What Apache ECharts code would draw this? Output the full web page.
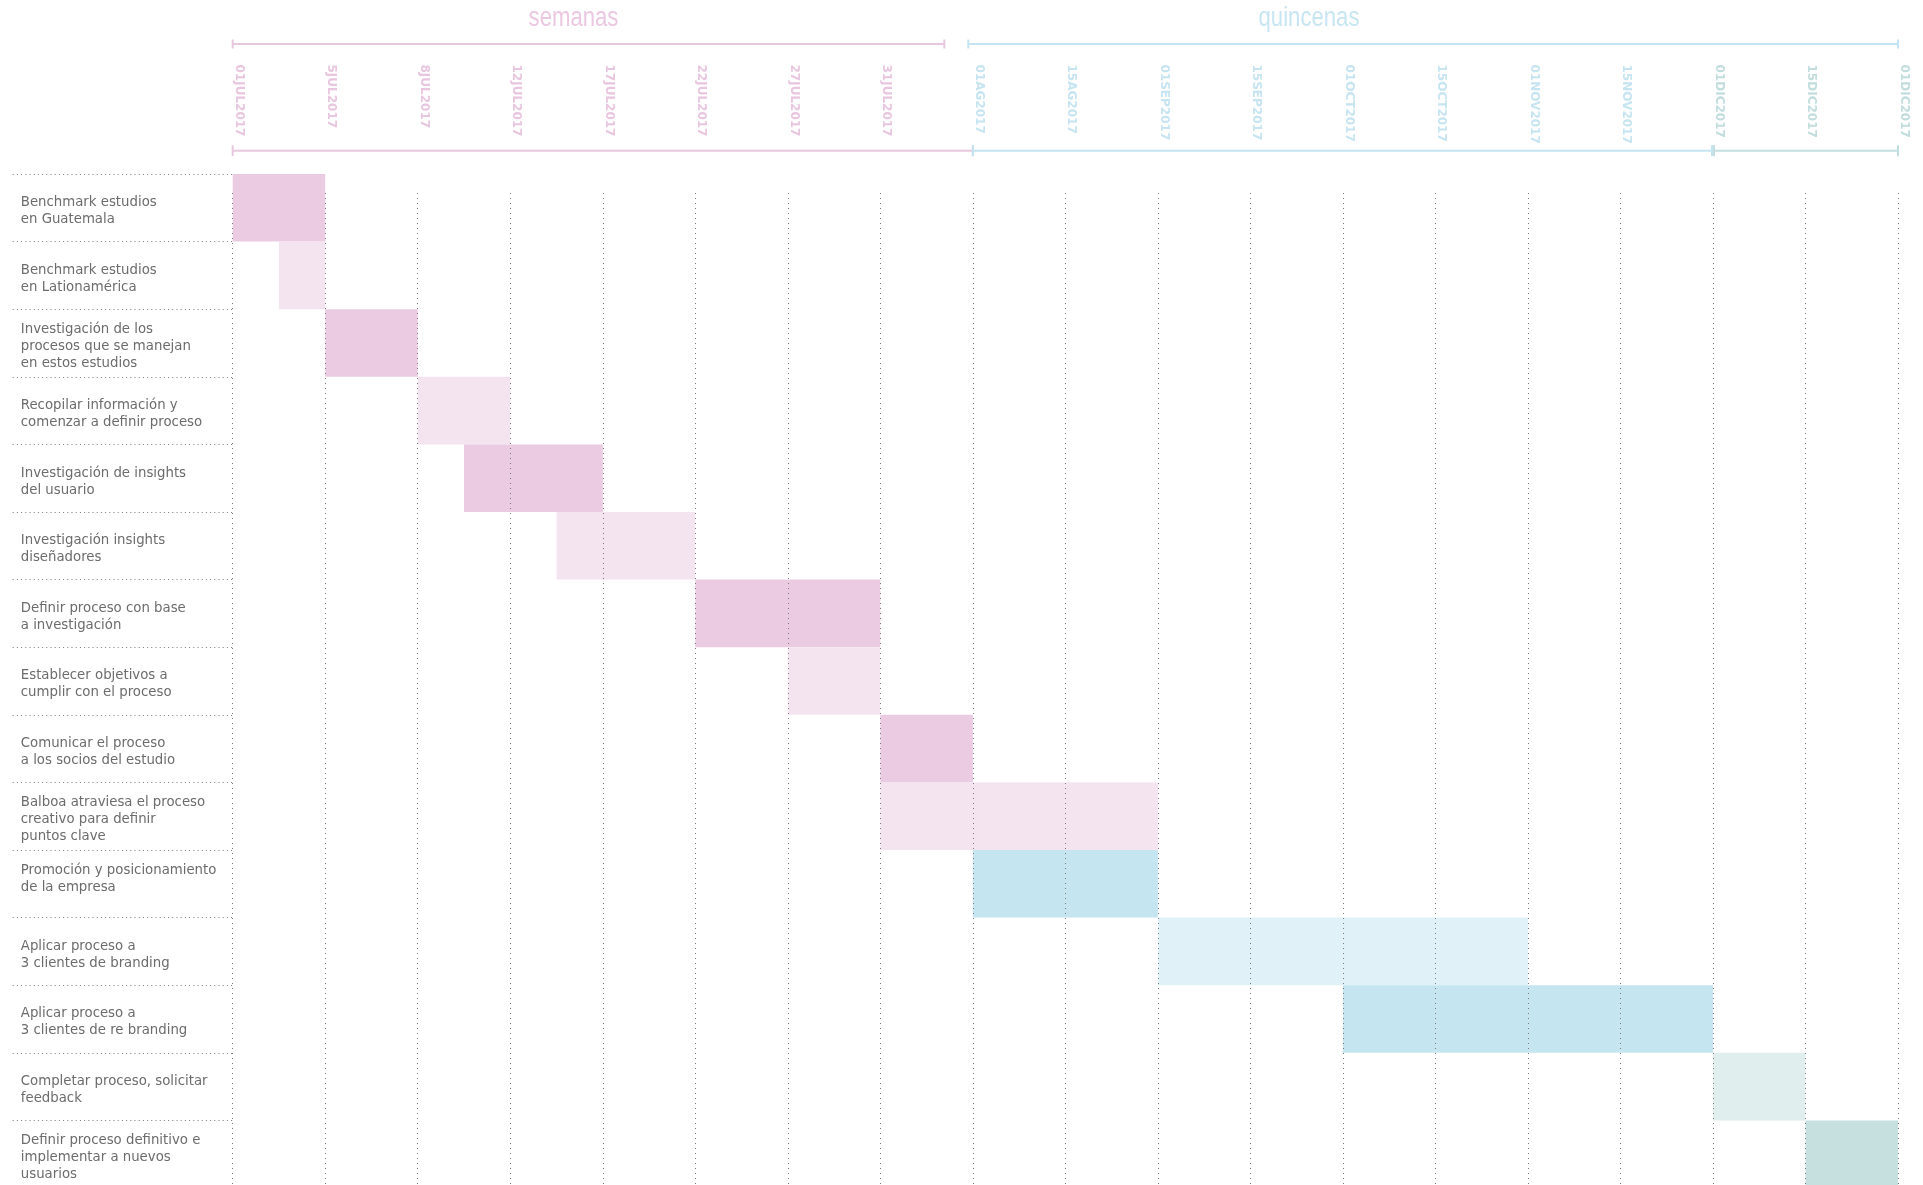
<!DOCTYPE html>
<html>
<head>
<meta charset="utf-8">
<title>Cronograma</title>
<style>
  html, body { margin: 0; padding: 0; background: #ffffff; }
  #chart { width: 1923px; height: 1185px; }
</style>
<script src="https://cdn.jsdelivr.net/npm/echarts@6/dist/echarts.min.js"></script>
</head>
<body>
<div id="chart"></div>
<script>
// Tasks, top to bottom
const tasks = [
  'Benchmark estudios\nen Guatemala',
  'Benchmark estudios\nen Lationamérica',
  'Investigación de los\nprocesos que se manejan\nen estos estudios',
  'Recopilar información y\ncomenzar a definir proceso',
  'Investigación de insights\ndel usuario',
  'Investigación insights\ndiseñadores',
  'Definir proceso con base\na investigación',
  'Establecer objetivos a\ncumplir con el proceso',
  'Comunicar el proceso\na los socios del estudio',
  'Balboa atraviesa el proceso\ncreativo para definir\npuntos clave',
  'Promoción y posicionamiento\nde la empresa\n ',
  'Aplicar proceso a\n3 clientes de branding',
  'Aplicar proceso a\n3 clientes de re branding',
  'Completar proceso, solicitar\nfeedback',
  'Definir proceso definitivo e\nimplementar a nuevos\nusuarios'
];

// Start / end of each task, measured in timeline columns (0 = 01JUL2017)
const taskStart = [0, 0.5, 1, 2, 2.5, 3.5, 5, 6, 7, 7, 8, 10, 12, 16, 17];
const taskEnd   = [1, 1,   2, 3, 4,   5,   7, 7, 8, 10, 10, 14, 16, 17, 18];
const taskTone  = ['pinkStrong', 'pinkSoft', 'pinkStrong', 'pinkSoft', 'pinkStrong',
                   'pinkSoft', 'pinkStrong', 'pinkSoft', 'pinkStrong', 'pinkSoft',
                   'blueStrong', 'blueSoft', 'blueStrong', 'tealSoft', 'tealStrong'];

// Timeline tick labels (weeks, then fortnights)
const tickLabels = ['01JUL2017', '5JUL2017', '8JUL2017', '12JUL2017', '17JUL2017',
                    '22JUL2017', '27JUL2017', '31JUL2017', '01AG2017', '15AG2017',
                    '01SEP2017', '15SEP2017', '01OCT2017', '15OCT2017', '01NOV2017',
                    '15NOV2017', '01DIC2017', '15DIC2017', '01DIC2017'];
const tickGroup = ['w', 'w', 'w', 'w', 'w', 'w', 'w', 'w', 'q', 'q',
                   'q', 'q', 'q', 'q', 'q', 'q', 't', 't', 't'];

const tones = {
  pinkStrong: '#eacbe2',
  pinkSoft:   '#f4e4ef',
  blueStrong: '#c5e6f1',
  blueSoft:   '#e0f1f8',
  tealSoft:   '#e1eeee',
  tealStrong: '#c6dfdf'
};
const groupColor = { w: '#e9c6df', q: '#c6e4f1', t: '#c2dddd' };
const bracketPink = '#e8c8df';
const bracketBlue = '#c4e4f1';
const bracketTeal = '#c3dede';

const GRID_LEFT = 232.7;
const GRID_RIGHT = 25;
const GRID_TOP = 174;
const ROW_H = 67.6;
const GRID_H = ROW_H * tasks.length;
const COLS = tickLabels.length - 1;
const LABEL_DROP = 3.5;   // task names sit slightly below the row centre

const dotGray = '#7a7a7a';

const chart = echarts.init(document.getElementById('chart'), null, { renderer: 'canvas' });

const hiddenValueAxis = function (gridIndex) {
  return {
    gridIndex: gridIndex, type: 'value', min: 0, max: 1,
    axisLine: { show: false }, axisTick: { show: false }, axisLabel: { show: false },
    splitLine: { show: false }
  };
};

const option = {
  backgroundColor: '#ffffff',
  animation: false,
  grid: [
    // bars + timeline labels
    { left: GRID_LEFT, right: GRID_RIGHT, top: GRID_TOP, height: GRID_H,
      containLabel: false, outerBoundsMode: 'none' },
    // vertical dotted guides, drawn above the bars
    { left: GRID_LEFT, right: GRID_RIGHT, top: 193, height: GRID_H + 10,
      containLabel: false, outerBoundsMode: 'none' },
    // dotted row separators under the label column
    { left: 12.7, width: GRID_LEFT - 12.7, top: GRID_TOP, height: GRID_H,
      containLabel: false, outerBoundsMode: 'none' },
    // task names
    { left: GRID_LEFT, right: GRID_RIGHT, top: GRID_TOP + LABEL_DROP, height: GRID_H,
      containLabel: false, outerBoundsMode: 'none' }
  ],
  xAxis: [
    {
      gridIndex: 0, type: 'value', position: 'top', min: 0, max: COLS, interval: 1,
      axisLine: { show: false }, axisTick: { show: false }, splitLine: { show: false },
      axisLabel: {
        show: true,
        rotate: 90,
        align: 'left',
        verticalAlign: 'bottom',
        margin: GRID_TOP - 64.5,
        fontFamily: 'DejaVu Sans',
        fontWeight: 'bold',
        fontSize: 12,
        color: function (value) { return groupColor[tickGroup[Math.round(value)]]; },
        formatter: function (value) { return tickLabels[Math.round(value)]; }
      }
    },
    {
      gridIndex: 1, type: 'value', min: 0, max: COLS, interval: 1, z: 10,
      axisLine: { show: false }, axisTick: { show: false }, axisLabel: { show: false },
      splitLine: { show: true, lineStyle: { color: dotGray, width: 1, type: [1, 4] } }
    },
    hiddenValueAxis(2),
    hiddenValueAxis(3)
  ],
  yAxis: [
    {
      gridIndex: 0, type: 'category', inverse: true, data: tasks,
      axisLine: { show: false }, axisTick: { show: false }, splitLine: { show: false },
      axisLabel: { show: false }
    },
    hiddenValueAxis(1),
    {
      gridIndex: 2, type: 'category', inverse: true, data: tasks,
      axisLine: { show: false }, axisTick: { show: false, interval: 0 }, axisLabel: { show: false },
      splitLine: { show: true, interval: 0, lineStyle: { color: dotGray, width: 1, type: [1, 3.2] } }
    },
    {
      gridIndex: 3, type: 'category', inverse: true, data: tasks,
      axisLine: { show: false }, axisTick: { show: false }, splitLine: { show: false },
      axisLabel: {
        align: 'left',
        margin: GRID_LEFT - 20.8,
        interval: 0,
        fontFamily: 'DejaVu Sans',
        fontSize: 13.3,
        lineHeight: 17,
        color: '#6c6c6c'
      }
    }
  ],
  series: [
    {
      type: 'custom',
      xAxisIndex: 0,
      yAxisIndex: 0,
      encode: { x: [1, 2], y: 0 },
      data: tasks.map((t, i) => [i, taskStart[i], taskEnd[i]]),
      renderItem: function (params, api) {
        const row = api.value(0);
        const p0 = api.coord([api.value(1), row]);
        const p1 = api.coord([api.value(2), row]);
        const h = api.size([0, 1])[1];
        return {
          type: 'rect',
          shape: { x: p0[0], y: p0[1] - h / 2, width: p1[0] - p0[0], height: h },
          style: { fill: tones[taskTone[params.dataIndex]] }
        };
      }
    }
  ]
};

chart.setOption(option);

// Period brackets and headings, placed from the timeline axis
function px(v) { return chart.convertToPixel({ xAxisIndex: 0 }, v); }

function bracket(x0, x1, y, color, half) {
  const st = { stroke: color, lineWidth: 2 };
  return [
    { type: 'line', z: 20, shape: { x1: x0, y1: y, x2: x1, y2: y }, style: st },
    { type: 'line', z: 20, shape: { x1: x0, y1: y - half, x2: x0, y2: y + half }, style: st },
    { type: 'line', z: 20, shape: { x1: x1, y1: y - half, x2: x1, y2: y + half }, style: st }
  ];
}

const xStart = px(0);
const xAug = px(8);
const xDec = px(16);
const xEnd = px(COLS);

const graphics = []
  .concat(bracket(xStart, xAug - 28.5, 44, bracketPink, 4.5))
  .concat(bracket(xAug - 4.5, xEnd, 44, bracketBlue, 4.5))
  .concat(bracket(xStart, xAug, 150.7, bracketPink, 5.5))
  .concat(bracket(xAug, xDec - 1, 150.7, bracketBlue, 5.5))
  .concat(bracket(xDec + 1, xEnd, 150.7, bracketTeal, 5.5));

graphics.push({
  type: 'text', z: 20, x: 573.5, y: 19, scaleX: 0.82,
  style: {
    text: 'semanas', fill: '#ebc8e1', font: '27px "Liberation Sans", Arial, sans-serif',
    textAlign: 'center', textVerticalAlign: 'middle'
  }
});
graphics.push({
  type: 'text', z: 20, x: 1309, y: 19, scaleX: 0.82,
  style: {
    text: 'quincenas', fill: '#c8e5f2', font: '27px "Liberation Sans", Arial, sans-serif',
    textAlign: 'center', textVerticalAlign: 'middle'
  }
});

chart.setOption({ graphic: graphics });
</script>
</body>
</html>
